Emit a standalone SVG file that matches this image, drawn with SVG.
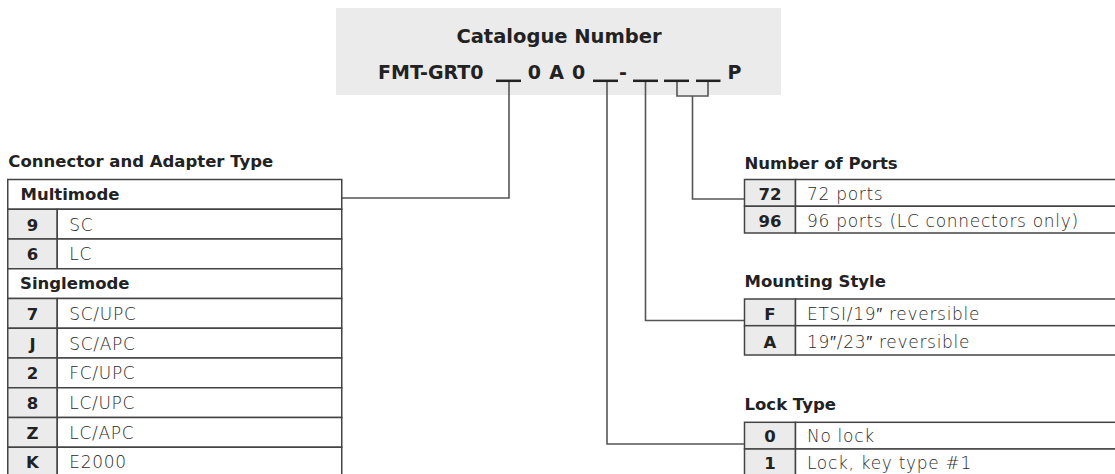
<svg xmlns="http://www.w3.org/2000/svg" width="1115" height="474" viewBox="0 0 1115 474">
<style>
.h{font-family:"DejaVu Sans","Liberation Sans",sans-serif;font-weight:bold;fill:#222}
.ttl{font-size:16.5px}
.sec{font-size:16.5px}
.c{font-size:16.5px;text-anchor:middle}
.t{font-family:"DejaVu Sans","Liberation Sans",sans-serif;font-weight:200;fill:#2a2a2a;font-size:17px;letter-spacing:0.7px}
.cell{fill:#fff;stroke:#444;stroke-width:1.5}
.code{fill:#ebebeb;stroke:#444;stroke-width:1.5}
.conn{fill:none;stroke:#555;stroke-width:1.6}
.blank{stroke:#222;stroke-width:2.5}
</style>
<rect width="1115" height="474" fill="#fff"/>

<g id="catalogue-number">
  <rect x="336" y="8" width="445" height="87" fill="#ebebeb"/>
  <text class="h" x="559" y="42.7" font-size="19.5" text-anchor="middle">Catalogue Number</text>
  <text class="h" x="378" y="79" font-size="19">FMT-GRT0</text>
  <text class="h" x="534.3" y="79" font-size="19" text-anchor="middle">0</text>
  <text class="h" x="556.5" y="79" font-size="19" text-anchor="middle">A</text>
  <text class="h" x="578.5" y="79" font-size="19" text-anchor="middle">0</text>
  <text class="h" x="623" y="79" font-size="19" text-anchor="middle">-</text>
  <text class="h" x="734.5" y="79" font-size="19" text-anchor="middle">P</text>
  <line class="blank" x1="496" y1="80.8" x2="521" y2="80.8"/>
  <line class="blank" x1="593" y1="80.8" x2="618" y2="80.8"/>
  <line class="blank" x1="633" y1="80.8" x2="658" y2="80.8"/>
  <line class="blank" x1="664" y1="80.8" x2="689" y2="80.8"/>
  <line class="blank" x1="696" y1="80.8" x2="720.5" y2="80.8"/>
</g>

<g id="connectors">
  <path class="conn" d="M509,82 V198 H341.75"/>
  <path class="conn" d="M607,82 V444 H744.5"/>
  <path class="conn" d="M645.5,82 V320.5 H744.5"/>
  <path class="conn" d="M677,82 V96 H708 V82"/>
  <path class="conn" d="M692.5,96 V199 H744.5"/>
</g>

<g id="connector-adapter-type">
  <text class="h ttl" x="8.3" y="167.3">Connector and Adapter Type</text>
  <rect class="cell" x="7.75" y="179.5" width="334" height="29.75"/>
  <text class="h sec" x="20.5" y="200.3">Multimode</text>
  <rect class="code" x="7.75" y="209.25" width="49.5" height="29.75"/>
  <rect class="cell" x="57.25" y="209.25" width="284.5" height="29.75"/>
  <text class="h c" x="32.5" y="230.6">9</text><text class="t" x="69.3" y="230.6">SC</text>
  <rect class="code" x="7.75" y="239" width="49.5" height="29.75"/>
  <rect class="cell" x="57.25" y="239" width="284.5" height="29.75"/>
  <text class="h c" x="32.5" y="260.3">6</text><text class="t" x="69.3" y="260.3">LC</text>
  <rect class="cell" x="7.75" y="268.75" width="334" height="29.75"/>
  <text class="h sec" x="20" y="289">Singlemode</text>
  <rect class="code" x="7.75" y="298.5" width="49.5" height="29.75"/>
  <rect class="cell" x="57.25" y="298.5" width="284.5" height="29.75"/>
  <text class="h c" x="32.5" y="320">7</text><text class="t" x="69.3" y="320">SC/UPC</text>
  <rect class="code" x="7.75" y="328.25" width="49.5" height="29.75"/>
  <rect class="cell" x="57.25" y="328.25" width="284.5" height="29.75"/>
  <text class="h c" x="32.5" y="349.7">J</text><text class="t" x="69.3" y="349.7">SC/APC</text>
  <rect class="code" x="7.75" y="358" width="49.5" height="29.75"/>
  <rect class="cell" x="57.25" y="358" width="284.5" height="29.75"/>
  <text class="h c" x="32.5" y="379.4">2</text><text class="t" x="69.3" y="379.4">FC/UPC</text>
  <rect class="code" x="7.75" y="387.75" width="49.5" height="29.75"/>
  <rect class="cell" x="57.25" y="387.75" width="284.5" height="29.75"/>
  <text class="h c" x="32.5" y="409.1">8</text><text class="t" x="69.3" y="409.1">LC/UPC</text>
  <rect class="code" x="7.75" y="417.5" width="49.5" height="29.75"/>
  <rect class="cell" x="57.25" y="417.5" width="284.5" height="29.75"/>
  <text class="h c" x="32.5" y="438.9">Z</text><text class="t" x="69.3" y="438.9">LC/APC</text>
  <rect class="code" x="7.75" y="447.25" width="49.5" height="29.75"/>
  <rect class="cell" x="57.25" y="447.25" width="284.5" height="29.75"/>
  <text class="h c" x="32.5" y="468.4">K</text><text class="t" x="69.3" y="468.4">E2000</text>
</g>

<g id="number-of-ports">
  <text class="h ttl" x="744.5" y="168.5">Number of Ports</text>
  <rect class="code" x="744.5" y="179.5" width="51" height="26.75"/>
  <rect class="cell" x="795.5" y="179.5" width="330" height="26.75"/>
  <text class="h c" x="770" y="200.3">72</text><text class="t" x="807" y="200.3">72 ports</text>
  <rect class="code" x="744.5" y="206.25" width="51" height="26.75"/>
  <rect class="cell" x="795.5" y="206.25" width="330" height="26.75"/>
  <text class="h c" x="770" y="227">96</text><text class="t" x="807" y="227">96 ports (LC connectors only)</text>
</g>

<g id="mounting-style">
  <text class="h ttl" x="744.5" y="286.7">Mounting Style</text>
  <rect class="code" x="744.5" y="299" width="51" height="26.7"/>
  <rect class="cell" x="795.5" y="299" width="330" height="26.7"/>
  <text class="h c" x="770" y="319.5">F</text><text class="t" x="807" y="319.5">ETSI/19″ reversible</text>
  <rect class="code" x="744.5" y="325.7" width="51" height="29.3"/>
  <rect class="cell" x="795.5" y="325.7" width="330" height="29.3"/>
  <text class="h c" x="770" y="347.5">A</text><text class="t" x="807" y="347.5">19″/23″ reversible</text>
</g>

<g id="lock-type">
  <text class="h ttl" x="744.5" y="410">Lock Type</text>
  <rect class="code" x="744.5" y="422.3" width="51" height="26.7"/>
  <rect class="cell" x="795.5" y="422.3" width="330" height="26.7"/>
  <text class="h c" x="770" y="441.8">0</text><text class="t" x="807" y="441.8">No lock</text>
  <rect class="code" x="744.5" y="449" width="51" height="28"/>
  <rect class="cell" x="795.5" y="449" width="330" height="28"/>
  <text class="h c" x="770" y="469.3">1</text><text class="t" x="807" y="469.3">Lock, key type #1</text>
</g>
</svg>
